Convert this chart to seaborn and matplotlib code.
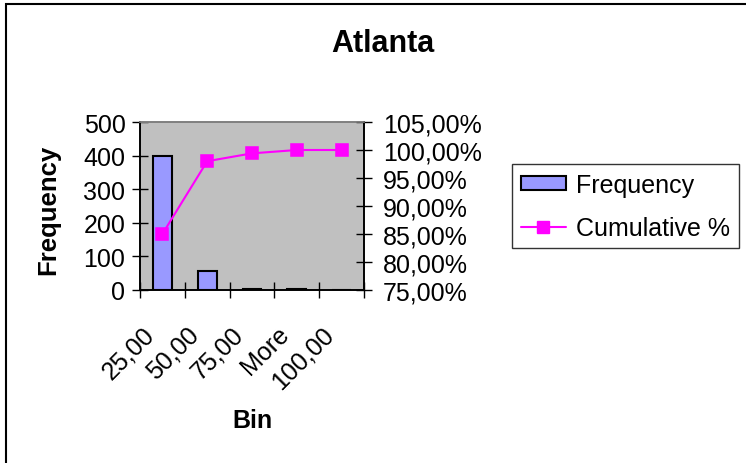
import seaborn as sns
import matplotlib
matplotlib.use('Agg')
import matplotlib.pyplot as plt
import matplotlib.transforms as mtransforms
from matplotlib.patches import Patch, Rectangle
from matplotlib.lines import Line2D
from matplotlib.ticker import FixedLocator, FuncFormatter

# data
bins = ['25,00', '50,00', '75,00', 'More', '100,00']
frequency = [400, 58, 3, 3, 0]
cumulative = [85.0, 98.0, 99.4, 100.0, 100.0]

sns.set_theme(style='white')
plt.rcParams['font.family'] = ['Liberation Sans', 'DejaVu Sans']
plt.rcParams['text.color'] = 'black'
plt.rcParams['axes.labelcolor'] = 'black'
plt.rcParams['xtick.color'] = 'black'
plt.rcParams['ytick.color'] = 'black'

fig = plt.figure(figsize=(7.46, 4.64), dpi=100)
W, H = 746.0, 464.0
ax = fig.add_axes([140 / W, 1 - 291 / H, 224 / W, 168 / H])
ax.set_facecolor('#C0C0C0')

sns.barplot(x=bins, y=frequency, color='#9999FF', saturation=1, edgecolor='black',
            linewidth=1.5, width=0.42, ax=ax)
ax.set_ylim(0, 500)
ax.set_yticks([0, 100, 200, 300, 400, 500])
ax.set_xlim(-0.5, 4.5)

ax2 = ax.twinx()
sns.pointplot(x=bins, y=cumulative, color='#FF00FF', markers='s', markersize=8,
              linewidth=1.5, ax=ax2)
ax2.set_ylim(75, 105)
ax2.set_yticks([75, 80, 85, 90, 95, 100, 105])
ax2.yaxis.set_major_formatter(FuncFormatter(lambda v, p: f'{v:.2f}%'.replace('.', ',')))
ax.set_xlim(-0.5, 4.5)

for a in (ax, ax2):
    a.set_xlabel('')
    a.set_ylabel('')
    for s in a.spines.values():
        s.set_color('black')
        s.set_linewidth(1.2)
    a.spines['top'].set_color('#808080')

# ticks: cross marks at category boundaries
ax.xaxis.set_minor_locator(FixedLocator([-0.5, 0.5, 1.5, 2.5, 3.5, 4.5]))
ax.tick_params(axis='x', which='major', length=0, labelsize=18, labelcolor='black', pad=29)
ax.tick_params(axis='x', which='minor', direction='inout', length=11, width=1, color='black', bottom=True)
ax.tick_params(axis='y', direction='inout', length=11, width=1, color='black', labelcolor='black',
               labelsize=18, pad=5, left=True)
ax2.tick_params(axis='y', direction='inout', length=11, width=1, color='black', labelcolor='black',
                labelsize=18, pad=8, right=True)
shift = mtransforms.ScaledTranslation(-0.12, 0, fig.dpi_scale_trans)
for lab in ax.get_xticklabels():
    lab.set_rotation(45)
    lab.set_ha('right')
    lab.set_va('center')
    lab.set_rotation_mode('anchor')
    lab.set_transform(lab.get_transform() + shift)

fig.text(383 / W, 1 - 44 / H, 'Atlanta', ha='center', va='center', fontsize=22,
         fontweight='bold', color='black')
fig.text(48 / W, 1 - 210 / H, 'Frequency', ha='center', va='center', rotation=90,
         fontsize=18.5, fontweight='bold', color='black')
fig.text(252 / W, 1 - 421 / H, 'Bin', ha='center', va='center', fontsize=18,
         fontweight='bold', color='black')

handles = [Patch(facecolor='#9999FF', edgecolor='black', linewidth=1.5),
           Line2D([], [], color='#FF00FF', marker='s', markersize=8, linewidth=1.5)]
leg = fig.legend(handles, ['Frequency', 'Cumulative %'], loc='upper left',
                 bbox_to_anchor=(512 / W, 1 - 165 / H), fontsize=18, frameon=True,
                 fancybox=False, edgecolor='black', handlelength=1.8, handleheight=0.5,
                 handletextpad=0.4, labelspacing=0.75, borderpad=0.35, borderaxespad=0)
leg.get_frame().set_linewidth(1)
for t in leg.get_texts():
    t.set_color('black')

fig.patches.append(Rectangle((6 / W, -0.1), 1.0, 1.1 - 5 / H, fill=False, edgecolor='black',
                             linewidth=1.5, transform=fig.transFigure, figure=fig))

fig.savefig('out.png', dpi=100)
